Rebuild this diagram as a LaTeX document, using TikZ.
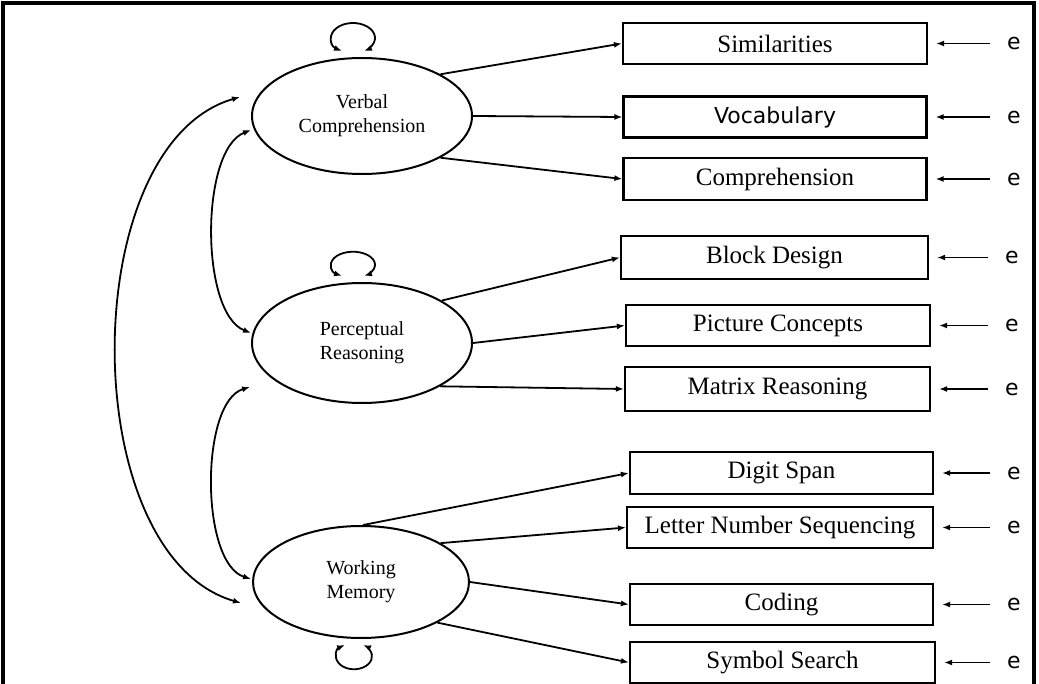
\documentclass[tikz,border=0pt]{standalone}
\usepackage{fontspec}
\setmainfont{Liberation Serif}
\newfontfamily\errfont{DejaVu Sans}
\usetikzlibrary{arrows.meta,shapes.geometric}

\begin{document}
\begin{tikzpicture}[x=1pt,y=1pt,
  tip/.style={-{Latex[length=8pt,width=6pt]}},
  both/.style={{Latex[length=8pt,width=6pt]}-{Latex[length=8pt,width=6pt]}},
  link/.style={line width=1.8pt},
  latent/.style={draw, ellipse, line width=2pt, inner sep=0pt,
    minimum width=220pt, minimum height=116pt, align=center,
    font=\fontsize{20}{24}\selectfont},
  obs/.style={draw, rectangle, line width=2.2pt, inner sep=0pt,
    minimum height=41pt, font=\fontsize{25}{30}\selectfont},
  err/.style={inner sep=2pt, font=\errfont\fontsize{22}{26}\selectfont},
]
\useasboundingbox (0,0) rectangle (1039,-684);

% open frame (left, top, right)
\draw[line width=3.5pt] (3,-686) -- (3,-3) -- (1034,-3) -- (1034,-686);

% latent factors
\node[latent] (vc) at (362,-116) {Verbal\\Comprehension};
\node[latent, minimum height=120pt] (pr) at (362,-343) {Perceptual\\Reasoning};
\node[latent, minimum width=216pt, minimum height=112pt] (wm) at (361,-582) {Working\\Memory};

% observed subtests
\node[obs, minimum width=304pt] (sim) at (775,-43.5) {Similarities};
\node[obs, minimum width=303pt, font=\errfont\fontsize{22}{26}\selectfont] (voc) at (775,-117) {Vocabulary};
\node[obs, minimum width=303pt, minimum height=42pt] (comp) at (775,-179) {Comprehension};
\node[obs, minimum width=307pt, minimum height=43pt] (bd) at (774.5,-257.5) {Block Design};
\node[obs, minimum width=304pt] (pc) at (778,-325.5) {Picture Concepts};
\node[obs, minimum width=305pt, minimum height=44pt] (mr) at (777.5,-389) {Matrix Reasoning};
\node[obs, minimum width=303pt, minimum height=42pt] (ds) at (781.5,-473) {Digit Span};
\node[obs, minimum width=306pt] (lns) at (780,-527.5) {Letter Number Sequencing};
\node[obs, minimum width=303pt] (cod) at (781.5,-604.5) {Coding};
\node[obs, minimum width=305pt] (ss) at (782.5,-662.5) {Symbol Search};

% factor loadings
\draw[link,tip] (vc.28) -- (sim.west);
\draw[link,tip] (vc.0) -- (voc.west);
\draw[link,tip] (vc.-28) -- (comp.west);
\draw[link,tip] (pr.28) -- (bd.west);
\draw[link,tip] (pr.0) -- (pc.west);
\draw[link,tip] (pr.-29) -- (mr.west);
\draw[link,tip] (wm.88) -- (ds.west);
\draw[link,tip] (wm.26) -- (lns.west);
\draw[link,tip] (wm.0) -- (cod.west);
\draw[link,tip] (wm.-28) -- (ss.west);

% error terms
\foreach \b/\ex in {sim/1014,voc/1014,comp/1014,bd/1012,pc/1012,mr/1012,ds/1014,lns/1014,cod/1014,ss/1014}{
  \node[err] (e-\b) at (\ex,0 |- \b.east) {e};
  \draw[link,tip,shorten <=15pt,shorten >=8pt] (e-\b.west) -- (e-\b.west -| \b.east);
}

% factor variances
\draw[link,both] (342,-51) arc[start angle=240,end angle=-60,x radius=22,y radius=15];
\draw[link,both] (342,-276) arc[start angle=240,end angle=-60,x radius=22,y radius=13];
\draw[link,both] (345,-645) arc[start angle=120,end angle=420,x radius=18,y radius=13];

% factor covariances
\coordinate (vcA) at (240,-97);
\coordinate (vcB) at (251,-130);
\coordinate (prA) at (251,-333);
\coordinate (prB) at (250,-387);
\coordinate (wmA) at (251,-579);
\coordinate (wmB) at (241,-603);
\draw[link,both] (vcA) .. controls (75,-145) and (75,-555) .. (wmB);
\draw[link,both] (vcB) .. controls (200,-150) and (200,-313) .. (prA);
\draw[link,both] (prB) .. controls (200,-402) and (200,-563) .. (wmA);
\end{tikzpicture}
\end{document}
